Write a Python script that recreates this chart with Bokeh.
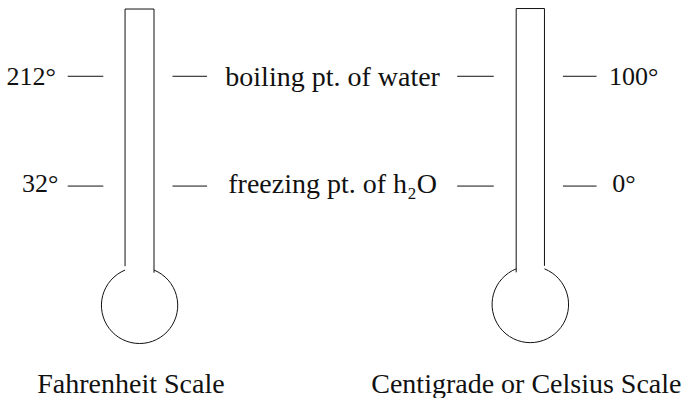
import math
from bokeh.plotting import figure
from bokeh.models import Range1d
from bokeh.core.properties import value
from bokeh.embed import file_html
from bokeh.resources import INLINE

# ---- data ----
fahrenheit = [212, 32]
celsius = [100, 0]
fahrenheit_labels = ["212°", "32°"]
celsius_labels = ["100°", "0°"]
point_names = ["boiling pt. of water", "freezing pt. of h₂O"]
scale_names = ["Fahrenheit Scale", "Centigrade or Celsius Scale"]

# ---- layout / style ----
W, H = 687, 398
FONT = value("Liberation Serif")
INK = "#111111"

p = figure(width=W, height=H, output_backend="svg", toolbar_location=None,
           x_range=Range1d(0, 695), y_range=Range1d(0, 406),
           min_border=0, min_border_left=0, min_border_right=0,
           min_border_top=0, min_border_bottom=0)
p.axis.visible = False
p.grid.visible = False
p.outline_line_color = None
p.background_fill_color = "white"
p.border_fill_color = "white"

# temperature scales as extra y ranges (same screen geometry)
def temp_range(t_hi, t_lo, v_hi=328.7, v_lo=216.7):
    k = (v_hi - v_lo) / (t_hi - t_lo)
    return Range1d(t_lo - v_lo / k, t_lo + (406 - v_lo) / k)

p.extra_y_ranges = {"F": temp_range(212, 32), "C": temp_range(100, 0)}

# ---- thermometers ----
therms = [
    dict(xl=126.0, xr=155.3, top=397.3, lb=135.0, rb=128.3, cx=140.7, cy=95.0, r=38.6),
    dict(xl=521.7, xr=550.3, top=397.8, lb=128.7, rb=135.3, cx=536.0, cy=96.0, r=38.7),
]
for t in therms:
    p.multi_line(xs=[[t["xl"], t["xl"], t["xr"], t["xr"]]],
                 ys=[[t["lb"], t["top"], t["top"], t["rb"]]],
                 line_color=INK, line_width=1)
    hw = (t["xr"] - t["xl"]) / 2
    a = math.acos(hw / t["r"])
    p.arc(x=[t["cx"]], y=[t["cy"]], radius=t["r"],
          start_angle=math.pi - a, end_angle=a, direction="anticlock",
          line_color=INK, line_width=1)

# ---- tick marks ----
tick_len_f = [(68, 104), (174, 209)]
tick_len_c = [(462, 499), (569, 603)]
for (x0, x1) in tick_len_f:
    p.segment(x0=[x0] * len(fahrenheit), x1=[x1] * len(fahrenheit),
              y0=fahrenheit, y1=fahrenheit, y_range_name="F",
              line_color=INK, line_width=1)
for (x0, x1) in tick_len_c:
    p.segment(x0=[x0] * len(celsius), x1=[x1] * len(celsius),
              y0=celsius, y1=celsius, y_range_name="C",
              line_color=INK, line_width=1)

row_off = [0.0, -3.0]

p.text(x=[56, 58.5], y=fahrenheit, text=fahrenheit_labels, y_range_name="F",
       y_offset=row_off, text_align="right", text_baseline="alphabetic",
       text_font=FONT, text_font_size="26px", text_color=INK)
p.text(x=[615.7, 619], y=celsius, text=celsius_labels, y_range_name="C",
       y_offset=row_off, text_align="left", text_baseline="alphabetic",
       text_font=FONT, text_font_size="26px", text_color=INK)
p.text(x=[336, 336], y=celsius, text=point_names, y_range_name="C",
       y_offset=row_off, text_align="center", text_baseline="alphabetic",
       text_font=FONT, text_font_size="28px", text_color=INK)

p.text(x=[132, 532], y=[6.7, 6.7], text=scale_names, y_offset=-8.0,
       text_align="center", text_baseline="alphabetic",
       text_font=FONT, text_font_size="28px", text_color=INK)

open("out.html", "w").write(file_html(p, INLINE))
